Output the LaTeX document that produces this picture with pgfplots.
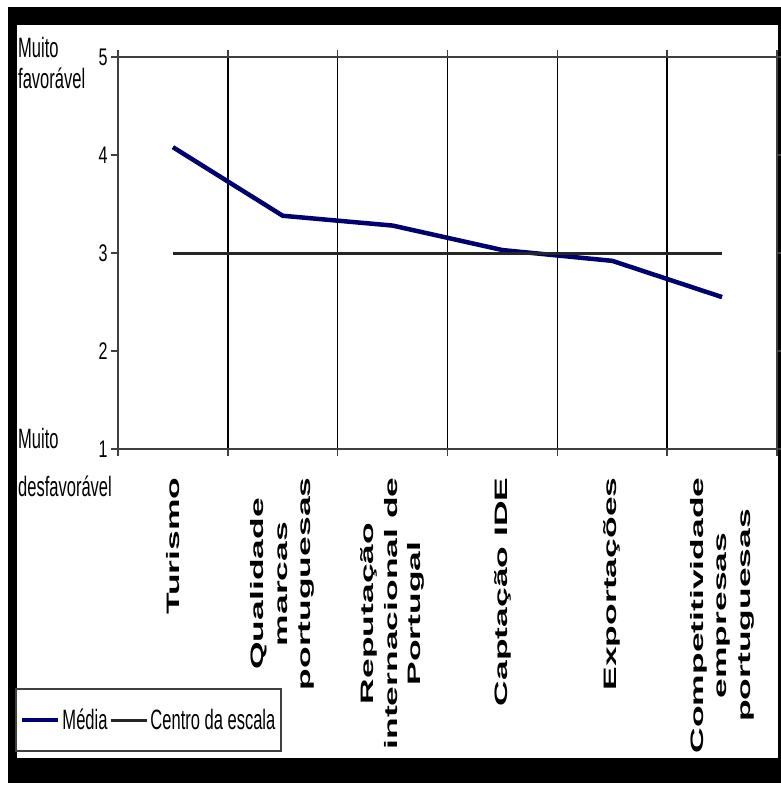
\documentclass[border=0pt]{standalone}
\usepackage{fontspec}
\usepackage{pgfplots}
\pgfplotsset{compat=1.18}
\setmainfont{Liberation Sans}
\newfontfamily\narrowfont{Liberation Sans}[FakeStretch=0.59]
\newfontfamily\tickfont{Liberation Sans}[FakeStretch=0.67]
\newfontfamily\labfont{Liberation Sans}[FakeStretch=1.97]
\definecolor{navy}{RGB}{0,0,110}

\begin{document}
\begin{tikzpicture}
  % page and the black frame of the screenshot
  \path[use as bounding box, fill=white] (0bp,0bp) rectangle (781bp,-786bp);
  \fill[black] (8bp,-7bp) rectangle (781bp,-783bp);
  \fill[white] (17bp,-25bp) rectangle (778bp,-758bp);

  \begin{axis}[
      at={(118bp,-449bp)}, anchor=south west,
      scale only axis, width=659bp, height=392bp,
      xmin=0, xmax=6, ymin=1, ymax=5,
      xtick={0,...,6}, xticklabels={,,,,,,},
      ytick={1,...,5},
      xmajorgrids,
      grid style={black, line width=1.5bp},
      axis line style={black!75, line width=2bp},
      tick style={black!75, line width=1.5bp},
      tick align=outside,
      major tick length=7bp,
      /pgf/number format/assume math mode=true,
      yticklabel style={font=\tickfont\fontsize{24bp}{26bp}\selectfont},
      extra x ticks={0.5,1.5,2.5,3.5,4.5,5.5},
      extra x tick labels={Turismo,{Qualidade\\marcas\\portuguesas},{Reputação\\internacional de\\Portugal},Captação IDE,Exportações,{Competitividade\\empresas\\portuguesas}},
      extra x tick style={grid=none, major tick length=0pt, xticklabel shift=25bp,
        tick label style={rotate=90, anchor=east, align=center,
          font=\labfont\bfseries\fontsize{18bp}{23.5bp}\selectfont}},
      legend style={at={(axis description cs:-0.1563,-0.6097)}, anchor=north west,
        draw=black!75, line width=2bp, fill=white,
        font=\narrowfont\fontsize{28bp}{30bp}\selectfont,
        inner xsep=4bp, inner ysep=18bp},
      legend columns=2,
      legend image code/.code={\draw[#1] (0bp,0bp) -- (36bp,0bp);},
    ]
    \addplot[navy, line width=4.5bp] coordinates {
      (0.5,4.08) (1.5,3.38) (2.5,3.28) (3.5,3.03) (4.5,2.92) (5.5,2.55)
    };
    \addplot[black!85, line width=3bp] coordinates {
      (0.5,3) (5.5,3)
    };
    \legend{Média,Centro da escala}
  \end{axis}

  \begin{scope}[every node/.style={anchor=base west, inner sep=0pt,
      font=\narrowfont\fontsize{28bp}{30bp}\selectfont}]
    \node at (18bp,-57bp) {Muito};
    \node at (18bp,-88bp) {favorável};
    \node at (18bp,-448bp) {Muito};
    \node at (18bp,-496bp) {desfavorável};
  \end{scope}
\end{tikzpicture}
\end{document}
